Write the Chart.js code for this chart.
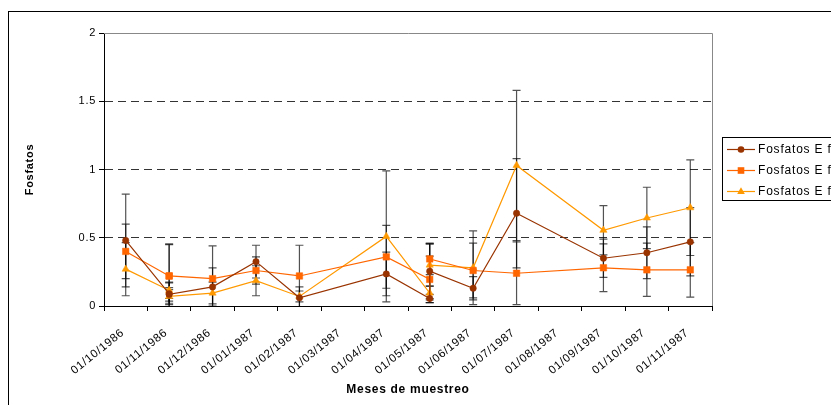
<!DOCTYPE html>
<html>
<head>
<meta charset="utf-8">
<script src="https://cdn.jsdelivr.net/npm/chart.js@4.4.1/dist/chart.umd.min.js"></script>
<style>
  html, body { margin: 0; padding: 0; background: #fff; overflow: hidden; }
  canvas { display: block; }
</style>
</head>
<body>
<canvas id="c" width="831" height="405"></canvas>
<script>
// Month slots on the date axis
const monthLabels = [
  '01/10/1986', '01/11/1986', '01/12/1986', '01/01/1987', '01/02/1987',
  '01/03/1987', '01/04/1987', '01/05/1987', '01/06/1987', '01/07/1987',
  '01/08/1987', '01/09/1987', '01/10/1987', '01/11/1987'
];

// Sampling campaigns (two campaigns in November 1986 and May 1987)
const sampleMonths = [
  '01/10/1986', '01/11/1986', '01/11/1986', '01/12/1986', '01/01/1987',
  '01/02/1987', '01/04/1987', '01/05/1987', '01/05/1987', '01/06/1987',
  '01/07/1987', '01/09/1987', '01/10/1987', '01/11/1987'
];

// Station f1
const f1Values = [0.48, 0.09, 0.085, 0.14, 0.325, 0.06, 0.235, 0.055, 0.255, 0.13, 0.68, 0.35, 0.39, 0.47];
const f1Errors = [0.34, 0.08, 0.05, 0.14, 0.12, 0.08, 0.16, 0.03, 0.20, 0.085, 0.40, 0.14, 0.19, 0.25];

// Station f2
const f2Values = [0.40, 0.22, 0.22, 0.20, 0.26, 0.22, 0.36, 0.195, 0.345, 0.26, 0.24, 0.28, 0.265, 0.265];
const f2Errors = [0.20, 0.235, 0.23, 0.24, 0.10, 0.225, 0.23, 0.17, 0.115, 0.20, 0.23, 0.175, 0.195, 0.20];

// Station f3
const f3Values = [0.27, 0.115, 0.07, 0.095, 0.185, 0.07, 0.51, 0.095, 0.30, 0.28, 1.03, 0.555, 0.645, 0.72];
const f3Errors = [0.195, 0.06, 0.05, 0.08, 0.11, 0.04, 0.48, 0.05, 0.155, 0.27, 0.55, 0.18, 0.225, 0.35];

const seriesNames = ['Fosfatos E f1', 'Fosfatos E f2', 'Fosfatos E f3'];
const yTicks = [0, 0.5, 1, 1.5, 2];

const FONT = '"Liberation Sans", Arial, sans-serif';
Chart.defaults.font.family = FONT;
Chart.defaults.font.size = 11;
Chart.defaults.color = '#000';

function toPoints(values) {
  return values.map((v, i) => ({ x: sampleMonths[i], y: v }));
}

// Vertical error bars with caps, drawn under the series
const errorBars = {
  id: 'errorBars',
  beforeDatasetsDraw(chart) {
    const { ctx, chartArea, scales } = chart;
    const y = scales.y;
    ctx.save();
    ctx.beginPath();
    ctx.rect(chartArea.left, chartArea.top - 1, chartArea.right - chartArea.left, chartArea.bottom - chartArea.top + 2);
    ctx.clip();
    ctx.strokeStyle = 'rgba(0,0,0,0.68)';
    ctx.lineWidth = 1.2;
    chart.data.datasets.forEach((ds, di) => {
      const meta = chart.getDatasetMeta(di);
      meta.data.forEach((pt, i) => {
        const v = ds.data[i].y;
        const e = ds.errors[i];
        const yTop = y.getPixelForValue(v + e);
        const yBot = y.getPixelForValue(v - e);
        const x = pt.x;
        ctx.beginPath();
        ctx.moveTo(x, yTop); ctx.lineTo(x, yBot);
        ctx.moveTo(x - 4, yTop); ctx.lineTo(x + 4, yTop);
        ctx.moveTo(x - 4, yBot); ctx.lineTo(x + 4, yBot);
        ctx.stroke();
      });
    });
    ctx.restore();
  }
};

// Plot frame, outer frame and the legend box
const frame = {
  id: 'frame',
  beforeDraw(chart) {
    const { ctx } = chart;
    ctx.fillStyle = '#fff';
    ctx.fillRect(0, 0, chart.width, chart.height);
    ctx.strokeStyle = '#000';
    ctx.lineWidth = 1;
    ctx.strokeRect(8.5, 11.5, 900, 500);
    // slightly open lettering for all texts
    ctx.letterSpacing = '0.7px';
  },
  afterDraw(chart) {
    const { ctx, chartArea } = chart;
    ctx.save();
    ctx.strokeStyle = '#888';
    ctx.lineWidth = 1;
    ctx.beginPath();
    ctx.moveTo(chartArea.left, chartArea.top + 0.5);
    ctx.lineTo(chartArea.right + 0.5, chartArea.top + 0.5);
    ctx.lineTo(chartArea.right + 0.5, chartArea.bottom);
    ctx.stroke();

    // legend
    const bx = 722.5, by = 137.5;
    ctx.fillStyle = '#fff';
    ctx.fillRect(bx, by, 200, 63);
    ctx.strokeStyle = '#000';
    ctx.strokeRect(bx, by, 200, 63);
    ctx.font = '12px ' + FONT;
    ctx.letterSpacing = '0.8px';
    ctx.textBaseline = 'middle';
    chart.data.datasets.forEach((ds, i) => {
      const cy = 149.5 + i * 21;
      ctx.strokeStyle = ds.borderColor;
      ctx.lineWidth = 1.2;
      ctx.beginPath();
      ctx.moveTo(727, cy); ctx.lineTo(755, cy);
      ctx.stroke();
      ctx.fillStyle = ds.pointBackgroundColor;
      const cx = 741;
      ctx.beginPath();
      if (ds.pointStyle === 'circle') {
        ctx.arc(cx, cy, 3.3, 0, Math.PI * 2);
      } else if (ds.pointStyle === 'rect') {
        ctx.rect(cx - 3.3, cy - 3.3, 6.6, 6.6);
      } else {
        ctx.moveTo(cx, cy - 4.2);
        ctx.lineTo(cx + 3.8, cy + 2.6);
        ctx.lineTo(cx - 3.8, cy + 2.6);
        ctx.closePath();
      }
      ctx.fill();
      ctx.fillStyle = '#000';
      ctx.textAlign = 'left';
      ctx.fillText(ds.label, 758, cy + 0.5);
    });
    ctx.restore();
  }
};

function series(label, values, errors, color, style, radius) {
  return {
    label,
    data: toPoints(values),
    errors,
    borderColor: color,
    backgroundColor: color,
    borderWidth: 1.2,
    pointStyle: style,
    pointRadius: radius,
    pointHoverRadius: radius,
    pointBackgroundColor: color,
    pointBorderColor: color,
    pointBorderWidth: 0.5,
    tension: 0,
    fill: false
  };
}

new Chart(document.getElementById('c'), {
  type: 'line',
  data: {
    labels: monthLabels,
    datasets: [
      series(seriesNames[0], f1Values, f1Errors, '#993300', 'circle', 3.2),
      series(seriesNames[1], f2Values, f2Errors, '#FF6600', 'rect', 4.6),
      series(seriesNames[2], f3Values, f3Errors, '#FF9900', 'triangle', 4.2)
    ]
  },
  options: {
    responsive: false,
    animation: false,
    devicePixelRatio: 1,
    events: [],
    layout: { padding: { left: 0, top: 33, right: 119, bottom: 0 } },
    plugins: {
      legend: { display: false },
      tooltip: { enabled: false }
    },
    scales: {
      x: {
        type: 'category',
        offset: true,
        grid: {
          offset: true,
          drawOnChartArea: false,
          tickLength: 5,
          color: '#000',
          lineWidth: 1
        },
        border: { color: '#000', width: 1 },
        ticks: {
          autoSkip: false,
          minRotation: 39,
          maxRotation: 39,
          padding: 15,
          labelOffset: -3,
          font: { size: 11.5 }
        },
        title: {
          display: true,
          text: 'Meses de muestreo',
          font: { size: 12, weight: 'bold' },
          padding: { top: 0, bottom: 8 }
        },
        afterFit(scale) { scale.height = 99; }
      },
      y: {
        min: 0,
        max: 2,
        afterBuildTicks(scale) { scale.ticks = yTicks.map(v => ({ value: v })); },
        grid: {
          color: ctx => (ctx.tick && ctx.tick.value > 0 && ctx.tick.value < 2) ? '#333' : 'rgba(0,0,0,0)',
          tickColor: '#000',
          tickLength: 5,
          lineWidth: 1
        },
        border: { color: '#000', width: 1, dash: [8, 5] },
        ticks: {
          padding: 3,
          font: { size: 11 },
          callback: v => String(v)
        },
        title: {
          display: true,
          text: 'Fosfatos',
          font: { size: 11, weight: 'bold' },
          padding: { top: 23, bottom: 0 }
        },
        afterFit(scale) { scale.width = 104; }
      }
    }
  },
  plugins: [frame, errorBars]
});
</script>
</body>
</html>
